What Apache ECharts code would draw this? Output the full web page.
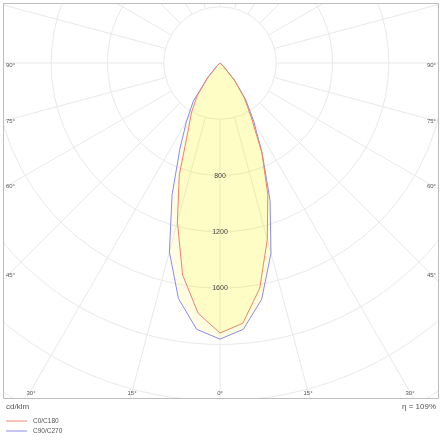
<!DOCTYPE html>
<html>
<head>
<meta charset="utf-8">
<script src="https://cdn.jsdelivr.net/npm/echarts@6/dist/echarts.min.js"></script>
<style>html,body{margin:0;padding:0;background:#fff}#c{width:442px;height:440px}</style>
</head>
<body>
<div id="c"></div>
<script>
// gamma angles (degrees) and luminous intensity (cd/klm)
const gamma = [0,5,10,15,20,25,30,35,40,45,50,55,60,65,70,75,80,85,90];
const c0   = [1919,1857,1626,1298,993,705,442,300,160,40,15,8,5,3,2,1,0,0,0];
const c180 = [1919,1785,1530,1170,845,540,405,280,140,35,15,8,5,3,2,1,0,0,0];
const c90  = [1962,1900,1705,1400,1040,710,480,320,160,40,15,8,5,3,2,1,0,0,0];
const c270 = [1962,1900,1700,1390,995,675,475,330,130,30,15,8,5,3,2,1,0,0,0];
const ringLabels = [800, 1200, 1600];
const leftLabels = ['90°','75°','60°','45°'];
const bottomLabels = ['30°','15°','0°','15°','30°'];
const seriesNames = ['C0/C180','C90/C270'];
const efficiency = 'η = 109%';
const unit = 'cd/klm';

function buildCurve(leftHalf, rightHalf){
  const pts = [];
  for (let i = gamma.length - 1; i >= 0; i--) pts.push([leftHalf[i], 360 - gamma[i]]);
  for (let i = 0; i < gamma.length; i++) pts.push([rightHalf[i], gamma[i]]);
  return pts;
}

const chart = echarts.init(document.getElementById('c'), null, {renderer:'canvas'});
const cx = 220, cy = 63, R = 394;
const font = 'Liberation Sans, Arial, sans-serif';
const gridColor = '#e9e9e9';
const txtColor = '#555';
const redColor = '#ea8470', blueColor = '#8c8ce6';

const leftY = [65, 121, 186, 275];
const bottomX = [31, 132, 220, 308, 410];
const graphics = [
  {type:'rect', z:50, shape:{x:0,y:0,width:442,height:3}, style:{fill:'#fff'}},
  {type:'rect', z:50, shape:{x:0,y:0,width:3,height:440}, style:{fill:'#fff'}},
  {type:'rect', z:50, shape:{x:439,y:0,width:3,height:440}, style:{fill:'#fff'}},
  {type:'rect', z:50, shape:{x:0,y:399,width:442,height:41}, style:{fill:'#fff'}},
  {type:'rect', z:60, shape:{x:3.5,y:3.5,width:435,height:395}, style:{fill:null, stroke:'#bdbdbd', lineWidth:1}},
  {type:'text', z:100, left:6, top:403, style:{text:unit, font:'8px '+font, fill:txtColor}},
  {type:'text', z:100, right:6, top:403, style:{text:efficiency, font:'8px '+font, fill:txtColor}}
];
leftLabels.forEach((t,i)=>{
  graphics.push({type:'text', z:100, x:6, y:leftY[i], style:{text:t, font:'6px '+font, fill:txtColor, verticalAlign:'middle', align:'left'}});
  graphics.push({type:'text', z:100, x:436, y:leftY[i], style:{text:t, font:'6px '+font, fill:txtColor, verticalAlign:'middle', align:'right'}});
});
bottomLabels.forEach((t,i)=>{
  graphics.push({type:'text', z:100, x:bottomX[i], y:393, style:{text:t, font:'6px '+font, fill:txtColor, verticalAlign:'middle', align:'center'}});
});

chart.setOption({
  animation:false,
  backgroundColor:'#fff',
  polar:[
    {center:[cx,cy], radius:[R*400/2800, R]},
    {center:[cx,cy], radius:[0, R]}
  ],
  angleAxis:[
    {polarIndex:0, type:'value', min:0, max:360, interval:15, startAngle:-90, clockwise:false,
     axisLine:{show:false}, axisTick:{show:false}, axisLabel:{show:false},
     splitLine:{show:true, lineStyle:{color:gridColor, width:1}}},
    {polarIndex:1, type:'value', min:0, max:360, interval:15, startAngle:-90, clockwise:false,
     axisLine:{show:false}, axisTick:{show:false}, axisLabel:{show:false}, splitLine:{show:false}}
  ],
  radiusAxis:[
    {polarIndex:0, type:'value', min:400, max:2800, interval:400,
     axisLine:{show:false}, axisTick:{show:false}, axisLabel:{show:false},
     splitLine:{show:true, lineStyle:{color:gridColor, width:1}}},
    {polarIndex:1, type:'value', min:0, max:2800, interval:400, z:10,
     axisLine:{show:false}, axisTick:{show:false}, splitLine:{show:false},
     axisLabel:{show:true, margin:0, align:'center', verticalAlign:'middle',
       fontSize:7, fontFamily:font, color:'#444',
       formatter:v=> ringLabels.indexOf(v) >= 0 ? String(v) : ''}}
  ],
  legend:{
    z:100, orient:'vertical', left:6, top:417.5, height:22, padding:0,
    itemWidth:21, itemHeight:1, itemGap:3,
    icon:'rect', data:[seriesNames[0], seriesNames[1]],
    textStyle:{fontSize:6.5, fontFamily:font, color:txtColor, padding:[0,0,0,1]}
  },
  series:[
    {name:seriesNames[1], type:'line', coordinateSystem:'polar', polarIndex:1,
     data:buildCurve(c270, c90), showSymbol:false, symbol:'none', smooth:false,
     itemStyle:{color:blueColor}, lineStyle:{color:blueColor, width:1},
     areaStyle:{color:'rgba(255,245,0,0.17)'}},
    {name:seriesNames[0], type:'line', coordinateSystem:'polar', polarIndex:1,
     data:buildCurve(c180, c0), showSymbol:false, symbol:'none', smooth:false,
     itemStyle:{color:redColor}, lineStyle:{color:redColor, width:1},
     areaStyle:{color:'rgba(255,245,0,0.17)'}}
  ],
  graphic:graphics
});
</script>
</body>
</html>
